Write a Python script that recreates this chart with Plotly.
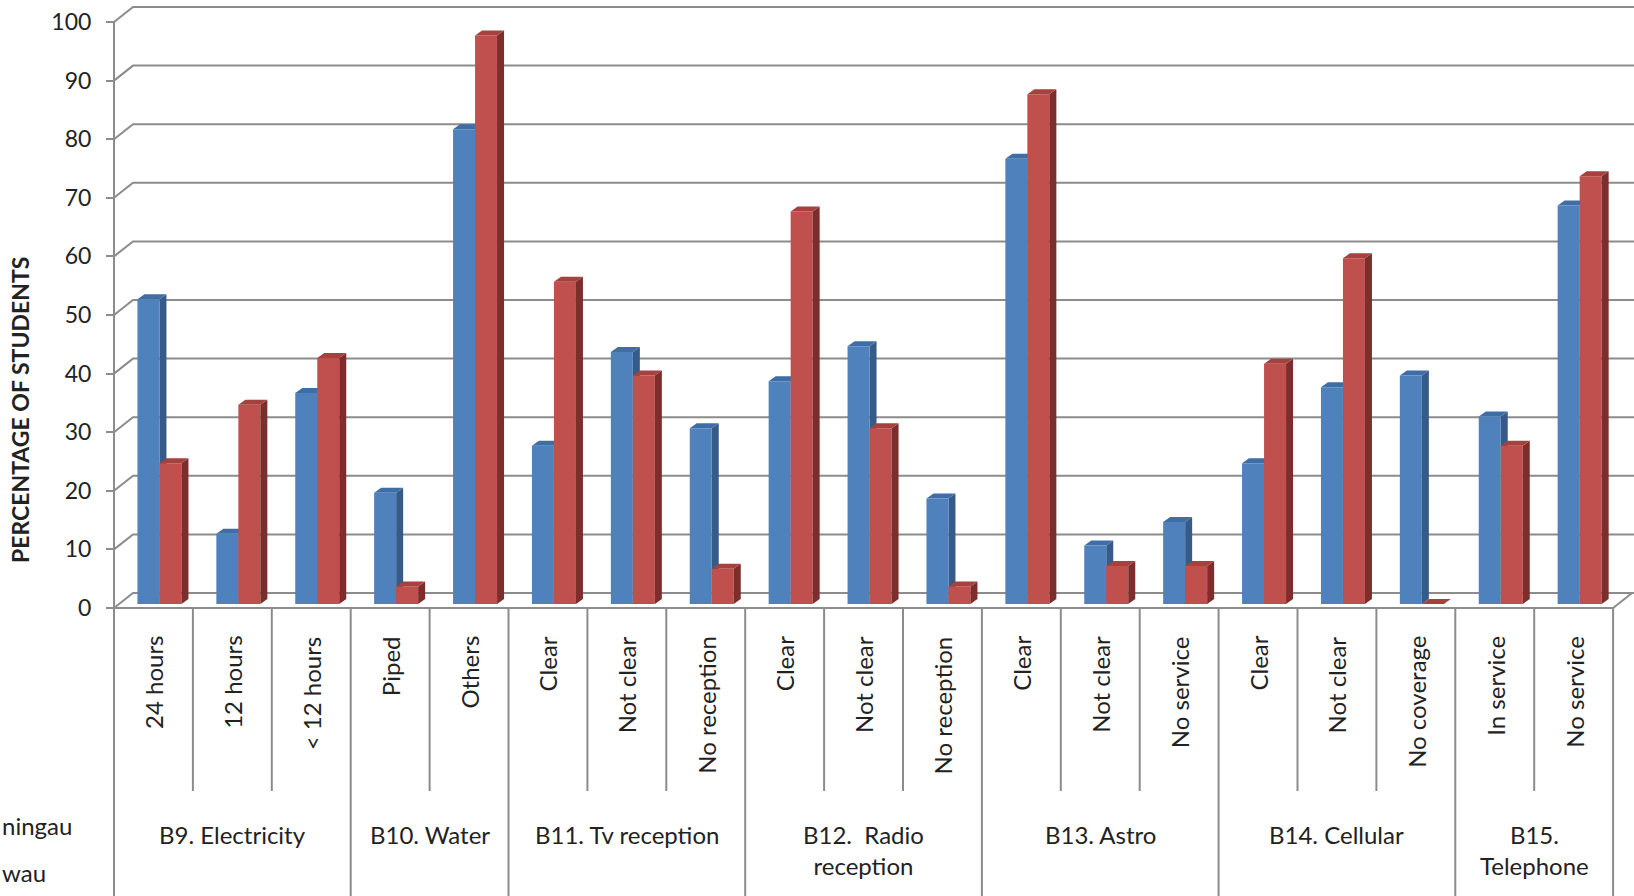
import plotly.graph_objects as go

# ---- data -------------------------------------------------------------
categories = ["24 hours", "12 hours", "&lt; 12 hours", "Piped", "Others",
              "Clear", "Not clear", "No reception",
              "Clear", "Not clear", "No reception",
              "Clear", "Not clear", "No service",
              "Clear", "Not clear", "No coverage",
              "In service", "No service"]
groups = ["B9. Electricity", "B10. Water", "B11. Tv reception",
          "B12.  Radio<br>reception", "B13. Astro", "B14. Cellular",
          "B15.<br>Telephone"]
group_sizes = [3, 2, 3, 3, 3, 3, 2]
series_labels = ["ningau", "wau"]
keningau = [52, 12, 36, 19, 81, 27, 43, 30, 38, 44, 18, 76, 10, 14, 24, 37, 39, 32, 68]
tawau = [24, 34, 42, 3, 97, 55, 39, 6, 67, 30, 3, 87, 6.5, 6.5, 41, 59, 0, 27, 73]
y_ticks = list(range(0, 101, 10))

# ---- geometry (pixels) --------------------------------------------------
W, H = 1634, 896
CW = 78.9          # width of one category on the front plane
X0 = 153.45        # centre of first category on the front plane
Y0 = 608           # front-plane zero line
UY = 5.86          # pixels per percentage point
BAR_SHIFT = (6, 4)     # bar plane relative to front plane (right, up)
WALL = (19, 15)        # back wall relative to front plane
DEPTH = (7, 5)         # visible depth of each bar
BAR_W = 22 / CW

wdx, wdy = WALL[0] / CW, WALL[1] / UY
ddx, ddy = DEPTH[0] / CW, DEPTH[1] / UY

GRID = "#8C8C8C"
TEXT = "#222222"
FONT = "Lato"
BLUE, BLUE_SIDE, BLUE_TOP = "#4F81BD", "#365B89", "#3F6DA6"
RED, RED_SIDE, RED_TOP = "#C0504D", "#7B2E2C", "#A5413E"

n = len(categories)
idx = list(range(n))
x_right = (W - X0) / CW + 0.5

fig = go.Figure()

fig.add_trace(go.Bar(x=idx, y=keningau, width=BAR_W, offset=-BAR_W,
                     marker=dict(color=BLUE, line=dict(width=0)),
                     name="Keningau", xaxis="x2", yaxis="y2"))
fig.add_trace(go.Bar(x=idx, y=tawau, width=BAR_W, offset=0,
                     marker=dict(color=RED, line=dict(width=0)),
                     name="Tawau", xaxis="x2", yaxis="y2"))

shapes = []

def line_path(pts, ref=("x", "y"), layer="below", width=2):
    d = "M " + " L ".join(f"{a},{b}" for a, b in pts)
    shapes.append(dict(type="path", path=d, xref=ref[0], yref=ref[1],
                       line=dict(color=GRID, width=width), layer=layer))

# back wall gridlines with their diagonal links to the front axis
for v in y_ticks:
    line_path([(-0.5, v), (-0.5 + wdx, v + wdy), (x_right, v + wdy)])
# front value axis
line_path([(-0.5, 0), (-0.5, 100)])
# floor front edge and right edge
line_path([(-0.5, 0), (n - 0.5, 0), (n - 0.5 + wdx, wdy)])

# category separators below the floor
group_edges = {0}
acc = 0
for g in group_sizes:
    acc += g
    group_edges.add(acc)
y_inner_end = (Y0 - 791) / UY
for k in range(n + 1):
    if k in group_edges:
        shapes.append(dict(type="line", xref="x", yref="paper",
                           x0=k - 0.5, x1=k - 0.5, y0=1 - Y0 / H, y1=0,
                           line=dict(color=GRID, width=2), layer="below"))
    else:
        shapes.append(dict(type="line", xref="x", yref="y",
                           x0=k - 0.5, x1=k - 0.5, y0=0, y1=y_inner_end,
                           line=dict(color=GRID, width=2), layer="below"))

# depth faces of the bars
def faces(values, off, side_c, top_c, layer):
    for i, v in enumerate(values):
        xl = i + off
        xr = xl + BAR_W
        top = (f"M {xl},{v} L {xr},{v} L {xr + ddx},{v + ddy} "
               f"L {xl + ddx},{v + ddy} Z")
        side = (f"M {xr},0 L {xr + ddx},{ddy} L {xr + ddx},{v + ddy} "
                f"L {xr},{v} Z")
        for d, c in ((side, side_c), (top, top_c)):
            shapes.append(dict(type="path", path=d, xref="x2", yref="y2",
                               fillcolor=c, line=dict(width=0), layer=layer))

faces(keningau, -BAR_W, BLUE_SIDE, BLUE_TOP, "below")
faces(tawau, 0, RED_SIDE, RED_TOP, "above")

annotations = []
# category labels
for i, c in enumerate(categories):
    annotations.append(dict(x=i, y=(Y0 - 634) / UY, xref="x", yref="y",
                            text=c, textangle=-90, showarrow=False,
                            xanchor="center", yanchor="top",
                            font=dict(family=FONT, size=24, color=TEXT)))
# group labels
start = 0
for g, size in zip(groups, group_sizes):
    centre = start + (size - 1) / 2
    annotations.append(dict(x=centre, y=(Y0 - 818) / UY, xref="x", yref="y",
                            text=g, showarrow=False, xanchor="center",
                            yanchor="top",
                            font=dict(family=FONT, size=24, color=TEXT)))
    start += size
# series labels at the left edge
for label, ypx in zip(series_labels, (825, 872)):
    annotations.append(dict(x=0, y=1 - ypx / H, xref="paper",
                            yref="paper", text=label, showarrow=False,
                            xanchor="left", yanchor="middle",
                            font=dict(family=FONT, size=24, color=TEXT)))
# value axis title
annotations.append(dict(x=20 / W, y=1 - 410 / H, xref="paper", yref="paper",
                        text="<b>PERCENTAGE OF STUDENTS</b>", textangle=-90,
                        showarrow=False, xanchor="center", yanchor="middle",
                        font=dict(family=FONT, size=23, color=TEXT)))

hidden = dict(visible=False, showgrid=False, zeroline=False)
fig.update_layout(
    width=W, height=H,
    margin=dict(l=0, r=0, t=0, b=0),
    paper_bgcolor="white", plot_bgcolor="white",
    barmode="overlay", showlegend=False,
    xaxis=dict(range=[(0 - X0) / CW, (W - X0) / CW], domain=[0, 1], **hidden),
    xaxis2=dict(range=[(0 - X0 - BAR_SHIFT[0]) / CW, (W - X0 - BAR_SHIFT[0]) / CW],
                overlaying="x", **hidden),
    yaxis=dict(range=[(Y0 - H) / UY, Y0 / UY], domain=[0, 1],
               anchor="free", position=(X0 - CW / 2) / W,
               tickvals=y_ticks, ticks="outside", ticklen=8, tickwidth=2,
               tickcolor=GRID, ticklabelstandoff=10,
               tickfont=dict(family=FONT, size=23, color=TEXT),
               showline=False, showgrid=False, zeroline=False),
    yaxis2=dict(range=[(Y0 - BAR_SHIFT[1] - H) / UY, (Y0 - BAR_SHIFT[1]) / UY],
                overlaying="y", **hidden),
    shapes=shapes,
    annotations=annotations,
)

fig.write_html("out.html")
